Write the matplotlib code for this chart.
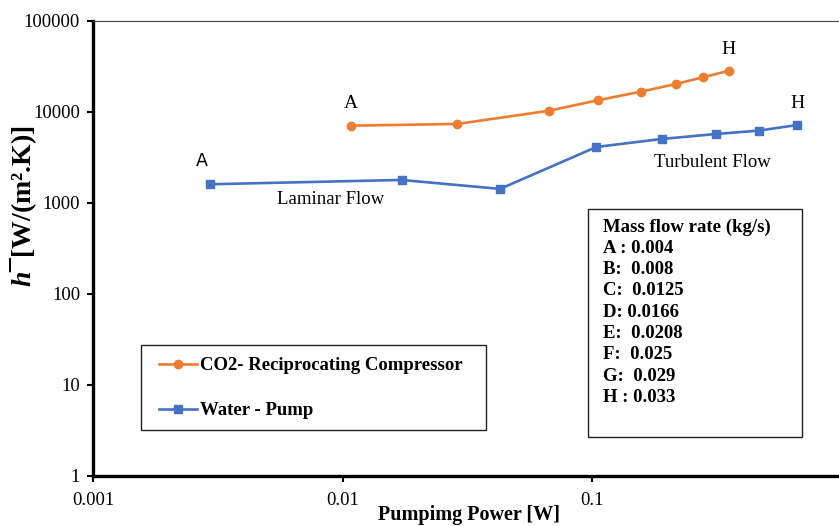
import matplotlib.pyplot as plt
import matplotlib.patches as patches

plt.rcParams['font.family'] = ['Liberation Serif', 'DejaVu Serif']
plt.rcParams['mathtext.fontset'] = 'custom'
plt.rcParams['mathtext.it'] = 'Liberation Serif:italic:bold'
plt.rcParams['mathtext.rm'] = 'Liberation Serif:bold'

# Data (A..H = increasing mass flow rate)
power_co2 = [0.0108, 0.0288, 0.0673, 0.105, 0.157, 0.216, 0.278, 0.352]
h_co2 = [7040, 7350, 10280, 13360, 16640, 20170, 23940, 28070]

power_water = [0.00295, 0.0172, 0.0427, 0.104, 0.190, 0.313, 0.466, 0.664]
h_water = [1600, 1783, 1422, 4110, 5027, 5700, 6210, 7160]

flow_rates = ['A : 0.004', 'B:  0.008', 'C:  0.0125', 'D: 0.0166',
              'E:  0.0208', 'F:  0.025', 'G:  0.029', 'H : 0.033']

orange = '#ED7D31'
blue = '#4472C4'
W, H = 839, 526

fig = plt.figure(figsize=(8.39, 5.26), dpi=100)
ax = fig.add_axes([0.1112, 0.0951, 0.892, 0.8655])

ax.plot(power_co2, h_co2, color=orange, lw=1.9, marker='o', ms=6,
        label='CO2- Reciprocating Compressor')
ax.plot(power_water, h_water, color=blue, lw=1.9, marker='s', ms=6,
        label='Water - Pump')

ax.set_xscale('log')
ax.set_yscale('log')
ax.set_xlim(0.001, 1)
ax.set_ylim(1, 100000)
ax.set_xticks([0.001, 0.01, 0.1])
ax.set_xticklabels(['0.001', '0.01', '0.1'])
ax.set_yticks([1, 10, 100, 1000, 10000, 100000])
ax.set_yticklabels(['1', '10', '100', '1000', '10000', '100000'])
ax.minorticks_off()
ax.tick_params(axis='both', labelsize=13.5, length=4, width=1.5, direction='out')
ax.tick_params(axis='y', pad=5.5)
ax.tick_params(axis='x', pad=7.5)

for s in ['left', 'bottom']:
    ax.spines[s].set_linewidth(2.4)
ax.spines['top'].set_linewidth(0.8)
ax.spines['top'].set_color('#444444')
ax.spines['right'].set_visible(False)

# point labels
ax.text(power_co2[0], 9900, 'A', ha='center', va='bottom', fontsize=14)
ax.text(power_co2[-1], 39000, 'H', ha='center', va='bottom', fontsize=14)
ax.text(0.00273, 2300, 'A', ha='center', va='bottom', fontsize=12.5, family='DejaVu Sans')
ax.text(power_water[-1], 10000, 'H', ha='center', va='bottom', fontsize=14)
ax.text(0.0089, 1100, 'Laminar Flow', ha='center', va='center', fontsize=13.5)
ax.text(0.302, 2800, 'Turbulent Flow', ha='center', va='center', fontsize=13.5)

# legend with its own frame
lbox = patches.Rectangle((141 / W, 1 - 430 / H), 345 / W, 85 / H,
                         transform=fig.transFigure, facecolor='white',
                         edgecolor='#222222', lw=1.0, zorder=4, clip_on=False)
ax.add_patch(lbox)
leg = ax.legend(loc='upper left', bbox_to_anchor=(159 / W, 1 - 357 / H),
                bbox_transform=fig.transFigure, frameon=False,
                prop={'weight': 'bold', 'size': 13.5}, handlelength=2.0,
                handletextpad=0.2, labelspacing=1.5, borderpad=0,
                borderaxespad=0)
leg.set_zorder(6)

# mass flow rate box
box = patches.Rectangle((588 / W, 1 - 437 / H), 214 / W, 228 / H,
                        transform=fig.transFigure, facecolor='white',
                        edgecolor='#222222', lw=1.0, zorder=5)
fig.add_artist(box)
fig.text(603 / W, 1 - 227 / H, 'Mass flow rate (kg/s)', fontsize=13.5,
         fontweight='bold', va='center', zorder=6)
for i, t in enumerate(flow_rates):
    fig.text(603 / W, 1 - (248.3 + 21.3 * i) / H, t, fontsize=13.5,
             fontweight='bold', va='center', zorder=6)

fig.text(469 / W, 1 - 515 / H, 'Pumpimg Power [W]', ha='center', va='center',
         fontsize=14.5, fontweight='bold')
fig.text(24 / W, 1 - 206 / H, r'$h$' + '¯[W/(m².K)]', ha='center', va='center',
         rotation=90, fontsize=20, fontweight='bold')

fig.savefig('out.png', dpi=100)
